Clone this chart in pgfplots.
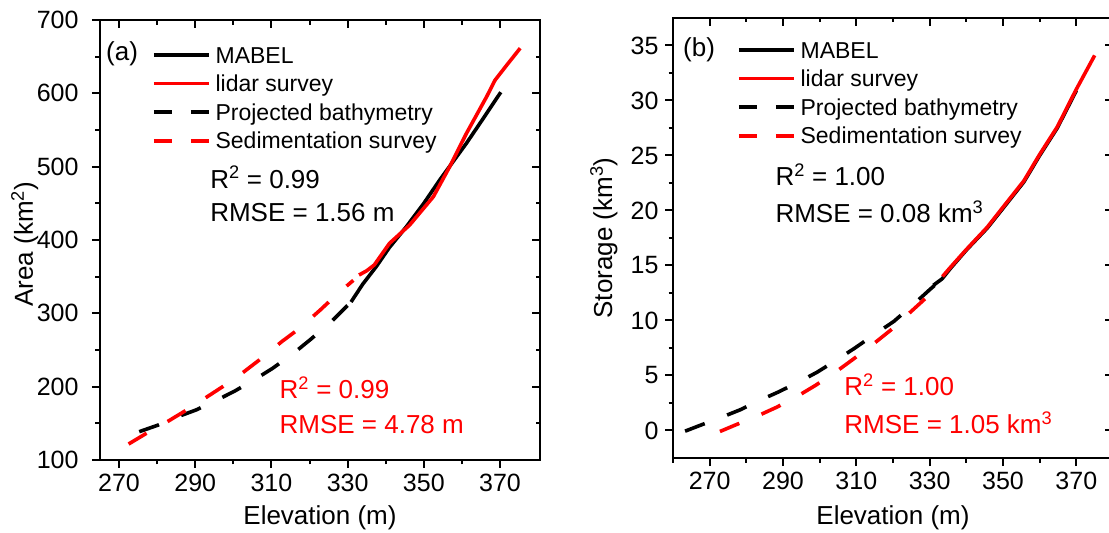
\documentclass[border=0pt]{standalone}
\usepackage{fontspec}
\setmainfont{Liberation Sans}
\usepackage{pgfplots}
\pgfplotsset{compat=1.18}
\pgfplotsset{
  base/.style={
    scale only axis, width=440pt, height=440pt,
    axis line style={line width=2pt},
    every tick/.style={line width=2pt, black},
    major tick length=8pt, minor tick length=4.5pt,
    /pgf/number format/assume math mode=true,
    tick label style={font=\fontsize{25}{30}\selectfont},
    xticklabel style={yshift=-3pt},
    yticklabel style={xshift=-3pt},
  },
  inner/.style={
    base, tick align=inside, xtick pos=right, ytick pos=right,
    xticklabels={}, yticklabels={},
  },
  dat/.style={line width=3.6pt},
  dsh/.style={line width=3.6pt, dash pattern=on 21pt off 24pt},
  leg/.style={
    legend style={draw=none, fill=none, inner sep=0pt, outer sep=0pt,
      anchor=north west, row sep=6.6pt, column sep=5pt,
      font=\fontsize{23}{27}\selectfont,
      nodes={inner sep=0pt, text height=17pt, text depth=5pt}},
    legend cell align=left,
    legend image code/.code={\draw[##1] (0pt,2pt) -- (55pt,2pt);},
  },
}
\newcommand{\annfont}{\fontsize{26}{31}\selectfont}
\begin{document}
\begin{tikzpicture}
\useasboundingbox (0,0) rectangle (1109pt,533pt);
\clip (0,0) rectangle (1109pt,533pt);
% ---------------- panel (a)
\begin{axis}[base, leg, at={(100pt,73pt)}, anchor=south west,
  xmin=265, xmax=380.5, ymin=100, ymax=700,
  xtick={270,290,...,370}, minor xtick={280,300,...,360},
  ytick={100,200,...,700}, minor ytick={150,250,...,650},
  yticklabel style={xshift=-7pt},
  tick align=outside, xtick pos=left, ytick pos=left,
  xlabel={Elevation (m)}, ylabel={Area (km\textsuperscript{2})},
  every axis x label/.style={at={(axis description cs:0.5,-0.1477)}, anchor=base, font=\annfont},
  every axis y label/.style={at={(axis description cs:-0.1523,0.49)}, rotate=90, anchor=base, font=\annfont},
  legend style={at={(axis description cs:0,1)}, xshift=52pt, yshift=-26pt},
]
\addlegendimage{black, line width=3.6pt}
\addlegendentry{MABEL}
\addlegendimage{red, line width=3.6pt}
\addlegendentry{lidar survey}
\addlegendimage{black, line width=3.6pt, dash pattern=on 18pt off 19pt}
\addlegendentry{Projected bathymetry}
\addlegendimage{red, line width=3.6pt, dash pattern=on 18pt off 19pt}
\addlegendentry{Sedimentation survey}
% projected bathymetry
\addplot[black, dsh, forget plot] coordinates {
 (275.3,138.6) (280.3,147.7) (285.4,159.0) (290.2,168.2) (295.4,180.9)
 (300.4,194.1) (305.7,210.0) (310.3,225.0) (315.8,245.5) (320.4,265.0)
 (325.9,289.6) (330.9,315.5)};
% sedimentation survey
\addplot[red, dsh, forget plot] coordinates {
 (272.5,121.8) (277.2,136.4) (282.4,151.4) (287.3,166.8) (292.5,184.1)
 (297.2,200.0) (302.6,219.6) (307.4,238.7) (312.7,261.4) (317.4,279.6)
 (322.8,304.5) (327.5,327.3) (331.5,345.0)};
% MABEL
\addplot[black, dat, forget plot] coordinates {
 (330.9,315.5) (334.0,340.0) (337.5,363.6) (341.0,390.0) (345.4,418.0)
 (350.0,450.0) (354.2,482.0) (361.2,532.0) (365.5,565.0) (370.2,601.5)};
% lidar survey
\addplot[red, dat, forget plot] coordinates {
 (333.0,352.3) (335.0,358.0) (337.0,366.0) (341.0,395.5) (346.3,420.5)
 (352.5,459.0) (356.8,500.0) (361.2,545.5) (366.5,595.5) (368.7,618.0)
 (372.0,640.0) (375.3,661.5)};
\node[anchor=base west, inner sep=0pt, font=\annfont] at (axis description cs:0,1) [xshift=6pt, yshift=-40pt] {(a)};
\node[anchor=base west, inner sep=0pt, font=\annfont] at (axis cs:293.9,470.9) {R\textsuperscript{2} = 0.99};
\node[anchor=base west, inner sep=0pt, font=\annfont] at (axis cs:293.9,424.6) {RMSE = 1.56 m};
\node[anchor=base west, inner sep=0pt, font=\annfont, text=red] at (axis cs:312.1,184.1) {R\textsuperscript{2} = 0.99};
\node[anchor=base west, inner sep=0pt, font=\annfont, text=red] at (axis cs:312.1,136.4) {RMSE = 4.78 m};
\end{axis}
\begin{axis}[inner, at={(100pt,73pt)}, anchor=south west,
  xmin=265, xmax=380.5, ymin=100, ymax=700,
  xtick={270,290,...,370}, minor xtick={280,300,...,360},
  ytick={100,200,...,700}, minor ytick={150,250,...,650}]
\end{axis}
% ---------------- panel (b)
\begin{axis}[base, leg, at={(673pt,75pt)}, anchor=south west,
  xmin=260, xmax=380, ymin=-2.5, ymax=37.5,
  xtick={270,290,...,370}, minor xtick={260,280,...,380},
  ytick={0,5,...,35}, minor ytick={2.5,7.5,...,32.5},
  tick align=outside, xtick pos=left, ytick pos=left,
  xlabel={Elevation (m)}, ylabel={Storage (km\textsuperscript{3})},
  every axis x label/.style={at={(axis description cs:0.5,-0.152)}, anchor=base, font=\annfont},
  every axis y label/.style={at={(axis description cs:-0.1386,0.5)}, rotate=90, anchor=base, font=\annfont},
  legend style={at={(axis description cs:0,1)}, xshift=64pt, yshift=-23pt},
]
\addlegendimage{black, line width=3.6pt}
\addlegendentry{MABEL}
\addlegendimage{red, line width=3.6pt}
\addlegendentry{lidar survey}
\addlegendimage{black, line width=3.6pt, dash pattern=on 18pt off 19pt}
\addlegendentry{Projected bathymetry}
\addlegendimage{red, line width=3.6pt, dash pattern=on 18pt off 19pt}
\addlegendentry{Sedimentation survey}
\addplot[black, dsh, forget plot] coordinates {
 (263.3,-0.06) (267.8,0.52) (273.3,1.21) (278.3,1.88) (283.6,2.73)
 (288.6,3.48) (294.2,4.39) (299.3,5.30) (304.7,6.42) (309.7,7.52)
 (315.2,8.79) (320.2,9.91) (325.7,11.50) (330.0,12.80) (333.4,13.79)};
\addplot[red, dsh, forget plot] coordinates {
 (272.8,-0.09) (277.8,0.61) (283.3,1.36) (288.3,2.12) (293.8,3.09)
 (298.8,4.09) (304.3,5.30) (309.3,6.52) (314.7,7.88) (319.8,9.24)
 (325.2,10.90) (330.2,12.42)};
\addplot[black, dat, forget plot] coordinates {
 (331.0,13.20) (333.4,13.79) (335.7,14.75) (340.0,16.40) (345.7,18.40)
 (350.0,20.20) (355.7,22.60) (360.0,25.00) (364.8,27.50) (370.0,30.90)};
\addplot[red, dat, forget plot] coordinates {
 (333.5,14.00) (335.7,14.85) (340.0,16.45) (345.7,18.48) (350.0,20.30)
 (355.7,22.70) (360.0,25.10) (364.8,27.60) (369.8,30.90) (375.0,34.10)};
\node[anchor=base west, inner sep=0pt, font=\annfont] at (axis description cs:0,1) [xshift=10pt, yshift=-38.7pt] {(b)};
\node[anchor=base west, inner sep=0pt, font=\annfont] at (axis cs:287.9,22.27) {R\textsuperscript{2} = 1.00};
\node[anchor=base west, inner sep=0pt, font=\annfont] at (axis cs:287.9,18.94) {RMSE = 0.08 km\textsuperscript{3}};
\node[anchor=base west, inner sep=0pt, font=\annfont, text=red] at (axis cs:306.7,3.18) {R\textsuperscript{2} = 1.00};
\node[anchor=base west, inner sep=0pt, font=\annfont, text=red] at (axis cs:306.7,-0.245) {RMSE = 1.05 km\textsuperscript{3}};
\end{axis}
\begin{axis}[inner, at={(673pt,75pt)}, anchor=south west,
  xmin=260, xmax=380, ymin=-2.5, ymax=37.5,
  xtick={270,290,...,370}, minor xtick={260,280,...,380},
  ytick={0,5,...,35}, minor ytick={2.5,7.5,...,32.5}]
\end{axis}
\end{tikzpicture}
\end{document}
